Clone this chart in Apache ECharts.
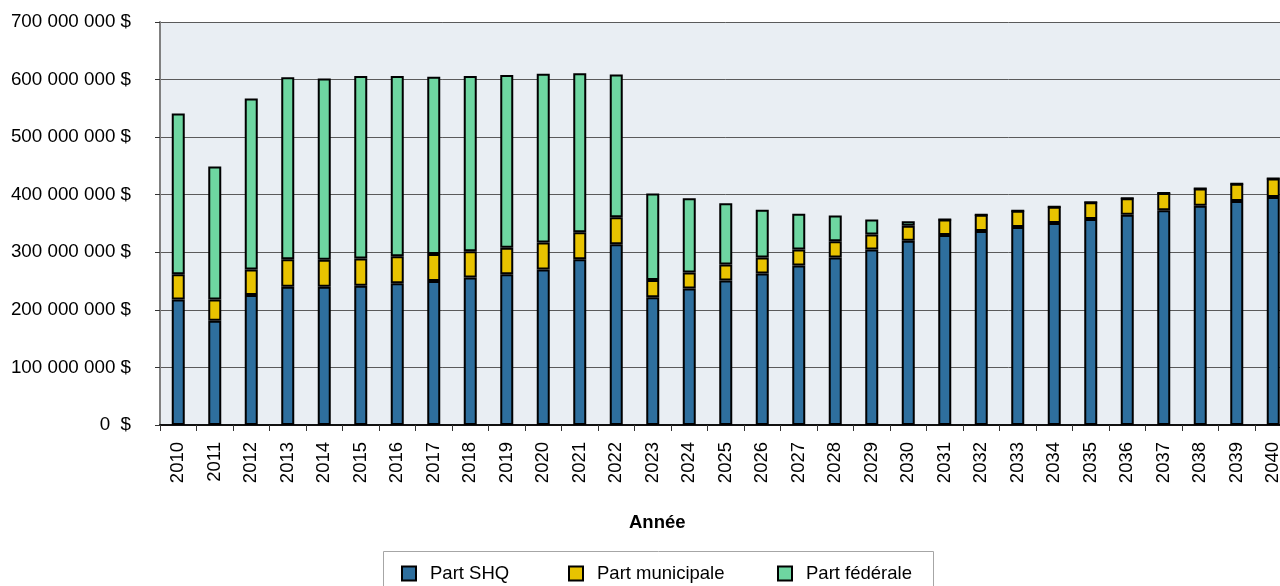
<!DOCTYPE html>
<html>

<head>
    <meta charset="utf-8">
    <title>Parts SHQ / municipale / fédérale</title>
    <script src="https://cdn.jsdelivr.net/npm/echarts@6/dist/echarts.min.js"></script>
    <style>
        html, body {
            margin: 0;
            padding: 0;
            background: #fff;
            overflow: hidden;
        }

        /* le graphique déborde à droite comme dans l'original */
        .chart {
            width: 1300px;
            height: 586px;
        }
    </style>
</head>

<body>
    <div id="main" class="chart"></div>

    <script type="text/javascript">
        // années et parts (en millions de $)
        var annees = ['2010', '2011', '2012', '2013', '2014', '2015', '2016', '2017', '2018', '2019',
            '2020', '2021', '2022', '2023', '2024', '2025', '2026', '2027', '2028', '2029',
            '2030', '2031', '2032', '2033', '2034', '2035', '2036', '2037', '2038', '2039', '2040'];

        var partSHQ = [218, 181, 226, 240, 240, 242, 246, 250, 256, 262,
            270, 288, 314, 222, 237, 251, 263, 277, 291, 305,
            320, 330, 337, 344, 351, 358, 365, 373, 381, 389, 396];

        var partMunicipale = [44, 37, 44, 48, 47, 47, 47, 47, 46, 46,
            47, 47, 47, 30, 28, 28, 28, 28, 28, 26,
            26, 27, 28, 28, 28, 29, 29, 30, 30, 30, 32];

        var partFederale = [279, 231, 297, 316, 315, 317, 313, 308, 304, 300,
            293, 276, 248, 150, 129, 106, 83, 62, 45, 26,
            8, 0, 0, 0, 0, 0, 0, 0, 0, 0, 0];

        var seriesNames = ['Part SHQ', 'Part municipale', 'Part fédérale'];
        var seriesColors = ['#2E6F9E', '#E8C300', '#6ED6A1'];

        var police = 'Arial, "Liberation Sans", sans-serif';

        function millions(arr) {
            return arr.map(function (v) { return v * 1000000; });
        }

        function formatDollars(v) {
            if (v === 0) return '0  $';
            var s = String(Math.round(v));
            return s.replace(/\B(?=(\d{3})+(?!\d))/g, ' ') + ' $';
        }

        var myChart = echarts.init(document.getElementById('main'));

        function barStyle(couleur) {
            return {
                color: couleur,
                borderColor: '#000',
                borderWidth: 2
            };
        }

        // une légende par entrée pour placer chaque item comme dans l'original
        var legendLeft = [401, 568, 777];
        var legends = seriesNames.map(function (nom, i) {
            return {
                left: legendLeft[i],
                top: 564,
                padding: 0,
                icon: 'rect',
                itemWidth: 14,
                itemHeight: 14,
                itemStyle: { borderColor: '#000', borderWidth: 2 },
                textStyle: {
                    fontSize: 18.5,
                    color: '#000',
                    fontFamily: police,
                    padding: [0, 0, 0, 9]
                },
                data: [nom]
            };
        });

        var option = {
            animation: false,
            textStyle: { fontFamily: police },
            grid: {
                left: 160,
                top: 22,
                width: 1131.5,
                height: 403,
                show: true,
                backgroundColor: '#E9EEF3',
                borderWidth: 0,
                outerBoundsMode: 'none'
            },
            legend: legends,
            graphic: [{
                type: 'rect',
                left: 381,
                top: 549,
                shape: { width: 550, height: 60 },
                style: { fill: 'none', stroke: '#a6a6a6', lineWidth: 1 },
                z: -1
            }, {
                type: 'text',
                left: 629,
                top: 513,
                style: {
                    text: 'Année',
                    font: 'bold 18.5px ' + police,
                    fill: '#000'
                }
            }],
            xAxis: {
                type: 'category',
                data: annees,
                boundaryGap: true,
                axisLine: { show: true, lineStyle: { color: '#111', width: 2 } },
                axisTick: { show: true, length: 6, lineStyle: { color: '#333' } },
                axisLabel: {
                    rotate: 90,
                    interval: 0,
                    margin: 17,
                    fontSize: 18.5,
                    color: '#000',
                    fontFamily: police
                }
            },
            yAxis: {
                type: 'value',
                min: 0,
                max: 700000000,
                interval: 100000000,
                axisLine: { show: true, lineStyle: { color: '#808080', width: 2 } },
                axisTick: { show: true, inside: false, length: 5, lineStyle: { color: '#333' } },
                axisLabel: {
                    margin: 29,
                    fontSize: 18.8,
                    color: '#000',
                    fontFamily: police,
                    formatter: formatDollars
                },
                splitLine: { show: true, lineStyle: { color: '#5a5a5a', width: 1 } }
            },
            series: [{
                name: seriesNames[0],
                type: 'bar',
                stack: 'total',
                barWidth: 13,
                itemStyle: barStyle(seriesColors[0]),
                data: millions(partSHQ)
            }, {
                name: seriesNames[1],
                type: 'bar',
                stack: 'total',
                barWidth: 13,
                itemStyle: barStyle(seriesColors[1]),
                data: millions(partMunicipale)
            }, {
                name: seriesNames[2],
                type: 'bar',
                stack: 'total',
                barWidth: 13,
                itemStyle: barStyle(seriesColors[2]),
                data: millions(partFederale)
            }]
        };

        myChart.setOption(option);
    </script>
</body>

</html>
